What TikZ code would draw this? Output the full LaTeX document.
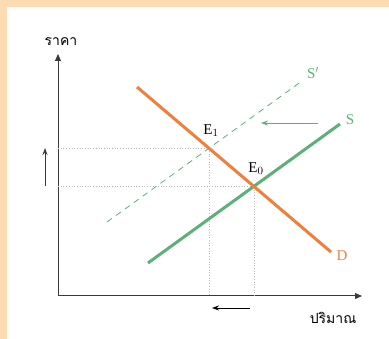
\documentclass[tikz,border=0pt]{standalone}
\usepackage{fontspec}
\setmainfont{Liberation Serif}
\newfontfamily\thaifont[Script=Thai]{Loma}
\usetikzlibrary{arrows.meta}
\definecolor{peach}{HTML}{FDDCB3}
\definecolor{dorange}{HTML}{F07F3C}
\definecolor{sgreen}{HTML}{5DB079}
\definecolor{axisgray}{HTML}{3A3A3A}
\definecolor{dotgray}{HTML}{BBBBBB}
\tikzset{
  axisline/.style={draw=axisgray, line width=1pt, -{Triangle[length=7pt,width=6pt]}},
  curveD/.style={draw=dorange, line width=3pt},
  curveS/.style={draw=sgreen, line width=3pt},
  curveSp/.style={draw=sgreen, line width=0.8pt, dash pattern=on 6pt off 5pt},
  guide/.style={draw=dotgray, line width=0.7pt, dotted},
  shiftarrow/.style={line width=0.9pt, -{Stealth[length=7pt,width=5pt]}},
  lbl/.style={font=\fontsize{15}{17}\selectfont, inner sep=0pt},
  thlbl/.style={font=\thaifont\fontsize{14}{16}\selectfont, inner sep=0pt},
}
\begin{document}
\begin{tikzpicture}[x=1pt,y=-1pt]
\useasboundingbox (0,0) rectangle (389,339);
\fill[peach] (0,0) rectangle (389,7);
\fill[peach] (0,0) rectangle (7,339);
% axes
\coordinate (O) at (58,296);
\coordinate (Ytop) at (58,54);
\coordinate (Xend) at (362,296);
\draw[axisline] (O) -- (Ytop);
\draw[axisline] (O) -- (Xend);
\node[thlbl] (ylab) at (61,42) {ราคา};
\node[thlbl] (xlab) at (333,318) {ปริมาณ};
% equilibrium points
\coordinate (E1) at (209,148);
\coordinate (E0) at (254,186);
% guides
\coordinate (E1y) at (58,148);
\coordinate (E1x) at (209,296);
\coordinate (E0y) at (58,186);
\coordinate (E0x) at (254,296);
\draw[guide] (E1y) -- (E1) -- (E1x);
\draw[guide] (E0y) -- (E0) -- (E0x);
% curves
\coordinate (Sp1) at (107,222);
\coordinate (Sp2) at (302,81);
\draw[curveSp] (Sp1) -- (Sp2);
\coordinate (S1) at (148,263);
\coordinate (S2) at (340,124);
\draw[curveS] (S1) -- (S2);
\coordinate (D1) at (137,87);
\coordinate (D2) at (331,252);
\draw[curveD] (D1) -- (D2);
% labels
\node[lbl, text=sgreen] (Sl) at (350,120) {S};
\node[lbl, text=sgreen] (Spl) at (313,73) {S$'$};
\node[lbl, text=dorange] (Dl) at (342,256) {D};
\node[lbl] (E1l) at (211,131) {E$_1$};
\node[lbl] (E0l) at (256,169) {E$_0$};
% shift arrows
\coordinate (ga1) at (318,123);
\coordinate (ga2) at (261,123);
\draw[shiftarrow, draw=sgreen] (ga1) -- (ga2);
\coordinate (ua1) at (45,186);
\coordinate (ua2) at (45,148);
\draw[shiftarrow, draw=axisgray] (ua1) -- (ua2);
\coordinate (la1) at (250,308);
\coordinate (la2) at (212,308);
\draw[shiftarrow, draw=black] (la1) -- (la2);
\end{tikzpicture}
\end{document}
